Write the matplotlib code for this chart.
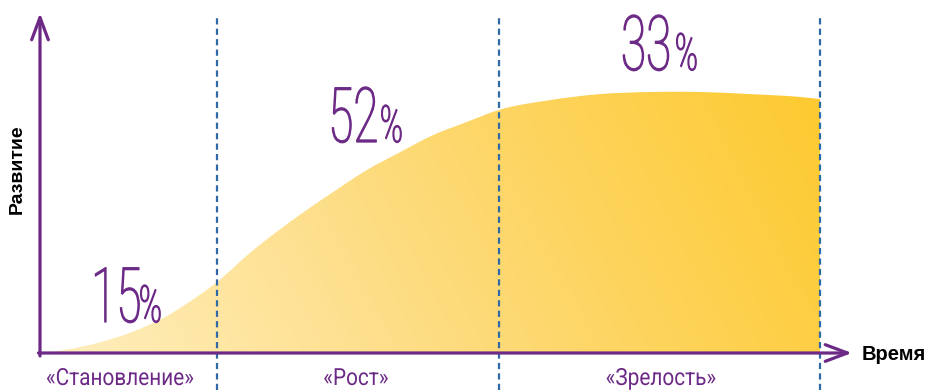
import matplotlib
matplotlib.use("Agg")
import matplotlib.pyplot as plt
import numpy as np
from matplotlib import patheffects
from matplotlib.colors import LinearSegmentedColormap
from matplotlib.patches import PathPatch
from matplotlib.path import Path
from matplotlib.transforms import Affine2D

# development curve over time (both on a 0..100 scale)
time = [0, 3.0, 7.3, 11.5, 15.8, 20.1, 22.7, 26.9, 33.3, 37.6, 41.9,
        46.2, 50.4, 54.7, 58.8, 65.4, 71.8, 78.2, 84.6, 91.0, 97.4, 100]
development = [0, 1.1, 3.8, 7.7, 13.4, 21.5, 27.2, 38.3, 52.9, 61.7, 70.1,
               77.0, 83.5, 88.5, 93.1, 96.9, 99.2, 100, 100, 99.2, 98.1, 97.3]

# stage boundaries and labels
stage_edges = [0, 22.7, 58.8, 100]
stage_names = ["«Становление»", "«Рост»", "«Зрелость»"]
stage_shares = [15, 52, 33]

purple = "#6c2a86"
dash_blue = "#2f69a6"

# pixel -> data helpers (origin of the axes sits at px (40, 353))
X0, Y0, SX, SY = 40, 353, 7.8, 2.61


def dx(p):
    return (p - X0) / SX


def dy(p):
    return (Y0 - p) / SY


class Squeeze(patheffects.AbstractPathEffect):
    """Narrow the glyphs horizontally around their own centre,
    optionally thickening them with an outline of the same colour."""

    def __init__(self, sx, stroke=0.0):
        super().__init__()
        self.sx = sx
        self.stroke = stroke

    def draw_path(self, renderer, gc, tpath, affine, rgbFace=None):
        v = affine.transform(tpath.vertices)
        cx = (v[:, 0].min() + v[:, 0].max()) / 2
        sq = Affine2D().translate(-cx, 0).scale(self.sx, 1).translate(cx, 0)
        gc0 = renderer.new_gc()
        gc0.copy_properties(gc)
        if self.stroke:
            gc0.set_linewidth(self.stroke)
            gc0.set_foreground(rgbFace)
            gc0.set_joinstyle("round")
        renderer.draw_path(gc0, tpath, affine + sq, rgbFace)
        gc0.restore()


def smooth_area(xs, ys):
    """Closed area under a cubic Hermite curve through the points."""
    x = np.asarray(xs, float)
    y = np.asarray(ys, float)
    m = np.gradient(y, x)
    verts = [(x[0], y[0])]
    codes = [Path.MOVETO]
    for i in range(len(x) - 1):
        h = (x[i + 1] - x[i]) / 3
        verts += [(x[i] + h, y[i] + m[i] * h),
                  (x[i + 1] - h, y[i + 1] - m[i + 1] * h),
                  (x[i + 1], y[i + 1])]
        codes += [Path.CURVE4] * 3
    verts += [(x[-1], 0), (x[0], 0), (x[0], 0)]
    codes += [Path.LINETO, Path.LINETO, Path.CLOSEPOLY]
    return Path(verts, codes)


fig = plt.figure(figsize=(9.28, 3.9), dpi=100)
ax = fig.add_axes([0, 0, 1, 1])
ax.set_xlim(dx(0), dx(928))
ax.set_ylim(dy(390), dy(0))
ax.axis("off")

# gradient-filled area under the curve
cmap = LinearSegmentedColormap.from_list(
    "sun", ["#feefc0", "#fee192", "#fdd45e", "#fdca30"])
gx, gy = np.meshgrid(np.linspace(0, 1, 400), np.linspace(0, 1, 200))
grad = 0.85 * gx + 0.15 * gy
im = ax.imshow(grad, cmap=cmap, extent=[0, 100, 0, 102], origin="lower",
               aspect="auto", zorder=1, interpolation="bilinear")
area = PathPatch(smooth_area(time, development), facecolor="none",
                 edgecolor="none")
ax.add_patch(area)
im.set_clip_path(area)

# stage separators
ax.vlines(stage_edges[1:], dy(390), dy(15), colors=dash_blue, lw=1.6,
          linestyles=(0, (2.8, 1.9)), zorder=2)

# axes with open arrow heads
arrow = dict(arrowstyle="->,head_length=0.8,head_width=0.3", lw=2.3,
             color=purple, shrinkA=0, shrinkB=0, mutation_scale=20)
ax.annotate("", xy=(0, dy(13)), xytext=(0, dy(356)), arrowprops=arrow,
            zorder=3)
ax.annotate("", xy=(dx(852), 0), xytext=(dx(38.5), 0), arrowprops=arrow,
            zorder=3)

ax.text(dx(17), dy(169), "Развитие", rotation=90, ha="center", va="center",
        fontsize=14, fontweight="bold", family="Liberation Sans", color="black")
ax.text(dx(862), dy(355), "Время", ha="left", va="center",
        fontsize=14.5, fontweight="bold", family="Liberation Sans",
        color="black")

narrow = [Squeeze(0.88)]
label_x = [120, 356, 661]
for name, lx in zip(stage_names, label_x):
    ax.text(dx(lx), dy(385), name, ha="center", va="baseline", fontsize=17,
            family="Roboto", color=purple, path_effects=narrow)

# share of each stage
tall = [Squeeze(0.6, stroke=0.9)]
share_pos = [(117, 151, 322), (354, 392, 142), (647, 687, 70)]
for share, (xn, xp, base) in zip(stage_shares, share_pos):
    ax.text(dx(xn), dy(base), str(share), ha="center", va="baseline",
            fontsize=55, family="Roboto", fontweight="light", color=purple,
            path_effects=tall)
    ax.text(dx(xp), dy(base), "%", ha="center", va="baseline",
            fontsize=37, family="Roboto", fontweight="light", color=purple,
            path_effects=tall)

fig.savefig("out.png", dpi=100)
